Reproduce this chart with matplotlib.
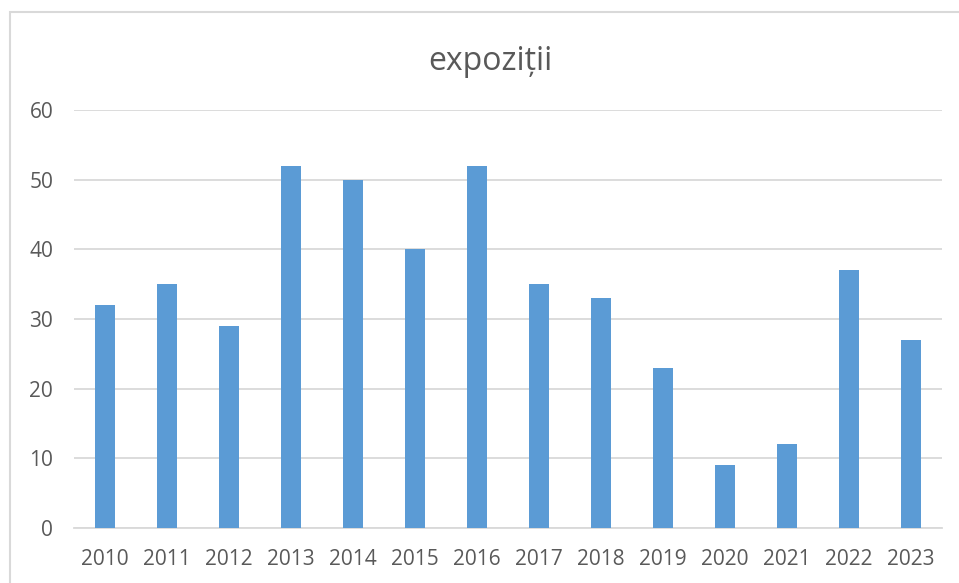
import matplotlib
matplotlib.use("Agg")
import matplotlib.pyplot as plt
from matplotlib.patches import Rectangle

years = ["2010", "2011", "2012", "2013", "2014", "2015", "2016",
         "2017", "2018", "2019", "2020", "2021", "2022", "2023"]
expozitii = [32, 35, 29, 52, 50, 40, 52, 35, 33, 23, 9, 12, 37, 27]

plt.rcParams['font.family'] = ['Open Sans', 'DejaVu Sans']
txt = '#595959'
grid = '#D9D9D9'

fig = plt.figure(figsize=(9.59, 5.83), dpi=100)
ax = fig.add_axes([74 / 959, 1 - 528 / 583, (942 - 74) / 959, (528 - 110) / 583])

x = range(len(years))
ax.bar(x, expozitii, width=0.31, color='#5B9BD5', zorder=3)

ax.set_xlim(-0.5, len(years) - 0.5)
ax.set_ylim(0, 60)
ax.set_yticks(range(0, 61, 10))
ax.set_xticks(list(x))
ax.set_xticklabels(years)
ax.yaxis.grid(True, color=grid, linewidth=1.3, zorder=0)
for s in ['top', 'right', 'left']:
    ax.spines[s].set_visible(False)
ax.spines['bottom'].set_color(grid)
ax.spines['bottom'].set_linewidth(1.3)
ax.tick_params(axis='both', length=0, colors=txt, labelsize=15)
ax.tick_params(axis='y', pad=15)
ax.tick_params(axis='x', pad=15)

fig.text(490 / 959, 1 - 61 / 583, 'expoziții', ha='center', va='center',
         fontsize=23, color=txt)

# chart frame, cut by the image edge on the right and bottom
fig.patches.append(Rectangle((10 / 959, -0.1), 1.2, 1 - 12 / 583 + 0.1,
                             transform=fig.transFigure, fill=False,
                             edgecolor=grid, linewidth=1.5))

fig.savefig('out.png', dpi=100)
